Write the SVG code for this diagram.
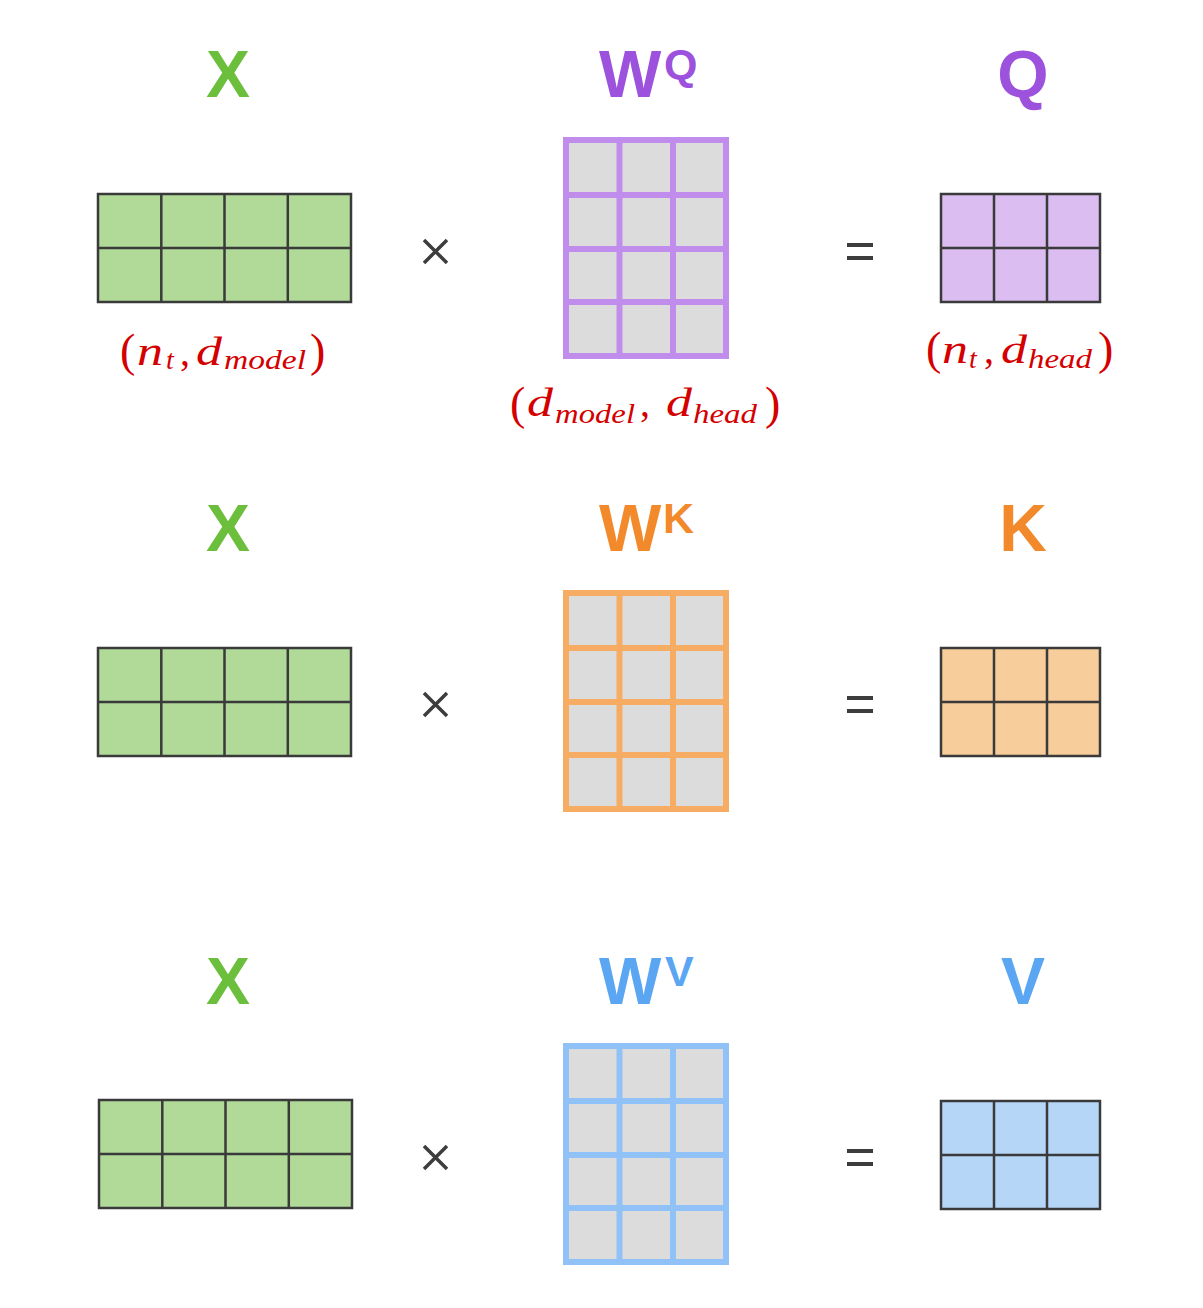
<svg xmlns="http://www.w3.org/2000/svg" width="1203" height="1308" viewBox="0 0 1203 1308">
<style>
.lbl{font-family:"Liberation Sans",Arial,sans-serif;font-weight:bold;font-size:66px}
.sup{font-family:"Liberation Sans",Arial,sans-serif;font-weight:bold;font-size:43px}
.g{fill:#6cbf3c}.p{fill:#9c52dc}.o{fill:#f28a2c}.b{fill:#5aa6f2}
.dark{stroke:#3a3a3a;stroke-width:2.5;fill:none}
.m{font-family:"Liberation Serif","Times New Roman",serif;fill:#d40000}
.it{font-style:italic;font-size:40px}
.sb{font-style:italic;font-size:28px}
.pa{font-size:46px}
.cm{font-size:40px}
.op{stroke:#3d3d3d;fill:none}
</style>
<rect width="1203" height="1308" fill="#ffffff"/>

<!-- Row 1: Q -->
<g id="row-q">
  <g id="label-x1"><text class="lbl g" x="228" y="97" text-anchor="middle">X</text></g>
  <g id="matrix-x1">
    <rect x="98" y="194" width="253" height="108" fill="#b1da98"/>
    <path class="dark" d="M98 194H351V302H98Z M161.3 194V302 M224.5 194V302 M287.8 194V302 M98 248H351"/>
  </g>
  <g id="label-wq"><text class="lbl p" x="599" y="97">W</text><text class="sup p" x="664" y="79">Q</text></g>
  <g id="matrix-wq">
    <rect x="566" y="140" width="160" height="216" fill="#dcdcdc"/>
    <path d="M566 140H726V356H566Z M619.5 140V356 M673 140V356 M566 195H726 M566 249H726 M566 302H726" fill="none" stroke="#c18ded" stroke-width="6"/>
  </g>
  <g id="label-q"><text class="lbl p" x="1023" y="97" text-anchor="middle">Q</text></g>
  <g id="matrix-q">
    <rect x="941" y="194" width="159" height="108" fill="#dbbdf1"/>
    <path class="dark" d="M941 194H1100V302H941Z M994 194V302 M1047 194V302 M941 248H1100"/>
  </g>
  <g id="dim-x" class="m">
    <text class="pa" x="120" y="366">(</text>
    <text class="it" x="137" y="365" textLength="26" lengthAdjust="spacingAndGlyphs">n</text>
    <text class="sb" x="166" y="369">t</text>
    <text class="cm" x="180" y="365">,</text>
    <text class="it" x="196" y="365" textLength="26" lengthAdjust="spacingAndGlyphs">d</text>
    <text class="sb" x="224" y="369" textLength="82" lengthAdjust="spacingAndGlyphs">model</text>
    <text class="pa" x="310" y="366">)</text>
  </g>
  <g id="dim-wq" class="m">
    <text class="pa" x="510" y="419">(</text>
    <text class="it" x="527" y="416" textLength="26" lengthAdjust="spacingAndGlyphs">d</text>
    <text class="sb" x="555" y="423" textLength="80" lengthAdjust="spacingAndGlyphs">model</text>
    <text class="cm" x="640" y="416">,</text>
    <text class="it" x="666" y="416" textLength="26" lengthAdjust="spacingAndGlyphs">d</text>
    <text class="sb" x="693" y="423" textLength="64" lengthAdjust="spacingAndGlyphs">head</text>
    <text class="pa" x="765" y="419">)</text>
  </g>
  <g id="dim-q" class="m">
    <text class="pa" x="926" y="364">(</text>
    <text class="it" x="942" y="363" textLength="26" lengthAdjust="spacingAndGlyphs">n</text>
    <text class="sb" x="969" y="368">t</text>
    <text class="cm" x="984" y="363">,</text>
    <text class="it" x="1001" y="363" textLength="26" lengthAdjust="spacingAndGlyphs">d</text>
    <text class="sb" x="1028" y="368" textLength="64" lengthAdjust="spacingAndGlyphs">head</text>
    <text class="pa" x="1098" y="364">)</text>
  </g>
</g>

<!-- Row 2: K -->
<g id="row-k">
  <g id="label-x2"><text class="lbl g" x="228" y="551" text-anchor="middle">X</text></g>
  <g id="matrix-x2">
    <rect x="98" y="648" width="253" height="108" fill="#b1da98"/>
    <path class="dark" d="M98 648H351V756H98Z M161.3 648V756 M224.5 648V756 M287.8 648V756 M98 702H351"/>
  </g>
  <g id="label-wk"><text class="lbl o" x="599" y="551">W</text><text class="sup o" x="663" y="533">K</text></g>
  <g id="matrix-wk">
    <rect x="566" y="593" width="160" height="216" fill="#dcdcdc"/>
    <path d="M566 593H726V809H566Z M619.5 593V809 M673 593V809 M566 648H726 M566 702H726 M566 755H726" fill="none" stroke="#f6ac62" stroke-width="6"/>
  </g>
  <g id="label-k"><text class="lbl o" x="1023" y="551" text-anchor="middle">K</text></g>
  <g id="matrix-k">
    <rect x="941" y="648" width="159" height="108" fill="#f6cd9b"/>
    <path class="dark" d="M941 648H1100V756H941Z M994 648V756 M1047 648V756 M941 702H1100"/>
  </g>
</g>

<!-- Row 3: V -->
<g id="row-v">
  <g id="label-x3"><text class="lbl g" x="228" y="1004" text-anchor="middle">X</text></g>
  <g id="matrix-x3">
    <rect x="99" y="1100" width="253" height="108" fill="#b1da98"/>
    <path class="dark" d="M99 1100H352V1208H99Z M162.3 1100V1208 M225.5 1100V1208 M288.8 1100V1208 M99 1154H352"/>
  </g>
  <g id="label-wv"><text class="lbl b" x="599" y="1004">W</text><text class="sup b" x="665" y="986">V</text></g>
  <g id="matrix-wv">
    <rect x="566" y="1046" width="160" height="216" fill="#dcdcdc"/>
    <path d="M566 1046H726V1262H566Z M619.5 1046V1262 M673 1046V1262 M566 1101H726 M566 1155H726 M566 1208H726" fill="none" stroke="#90c2f7" stroke-width="6"/>
  </g>
  <g id="label-v"><text class="lbl b" x="1023" y="1004" text-anchor="middle">V</text></g>
  <g id="matrix-v">
    <rect x="941" y="1101" width="159" height="108" fill="#b6d6f7"/>
    <path class="dark" d="M941 1101H1100V1209H941Z M994 1101V1209 M1047 1101V1209 M941 1155H1100"/>
  </g>
</g>

<!-- Operators -->
<g id="operators" class="op">
  <path stroke-width="3.5" d="M424 240L447 263M447 240L424 263"/>
  <path stroke-width="4" d="M847 245H873M847 258H873"/>
  <path stroke-width="3.5" d="M424 693L447 716M447 693L424 716"/>
  <path stroke-width="4" d="M847 698H873M847 711H873"/>
  <path stroke-width="3.5" d="M424 1146L447 1169M447 1146L424 1169"/>
  <path stroke-width="4" d="M847 1151H873M847 1164H873"/>
</g>
</svg>
